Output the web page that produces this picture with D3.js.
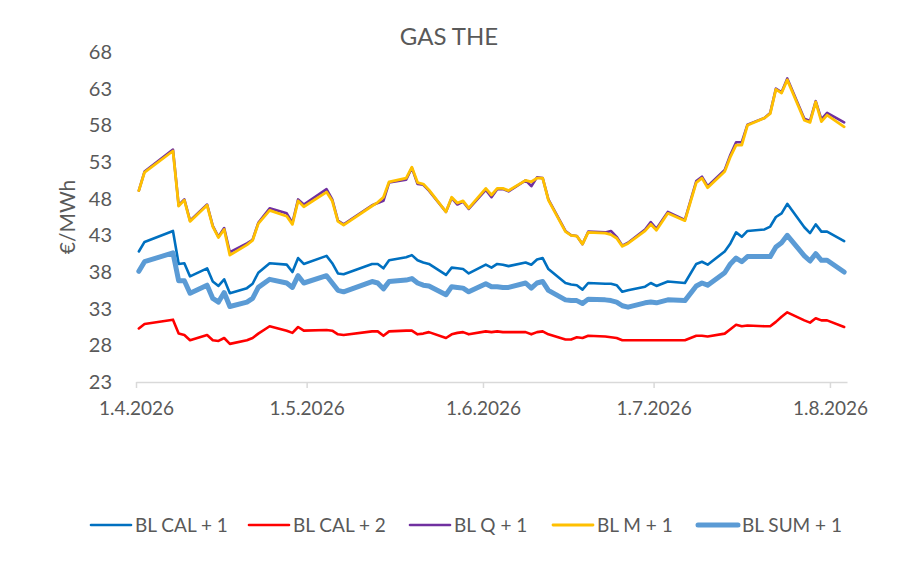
<!DOCTYPE html>
<html>
<head>
<meta charset="utf-8">
<script src="https://cdn.jsdelivr.net/npm/d3@7"></script>
<style>
  body { margin: 0; background: #fff; }
  text { font-family: Lato, "Open Sans", sans-serif; fill: #595959; }
</style>
</head>
<body>
<svg id="chart" width="900" height="573"></svg>
<script>
// trading days shown on the chart
const dates = [
  '2026-04-01','2026-04-02','2026-04-07','2026-04-08','2026-04-09','2026-04-10','2026-04-13','2026-04-14','2026-04-15','2026-04-16','2026-04-17','2026-04-20','2026-04-21','2026-04-22','2026-04-24','2026-04-27','2026-04-28','2026-04-29','2026-04-30',
  '2026-05-04','2026-05-05','2026-05-06','2026-05-07','2026-05-12','2026-05-13','2026-05-14','2026-05-15','2026-05-18','2026-05-19','2026-05-20','2026-05-21','2026-05-22','2026-05-25','2026-05-26','2026-05-27','2026-05-28','2026-05-29',
  '2026-06-01','2026-06-02','2026-06-03','2026-06-04','2026-06-05','2026-06-08','2026-06-09','2026-06-10','2026-06-11','2026-06-12','2026-06-15','2026-06-16','2026-06-17','2026-06-18','2026-06-19','2026-06-22','2026-06-23','2026-06-24','2026-06-25','2026-06-26','2026-06-29','2026-06-30',
  '2026-07-01','2026-07-03','2026-07-06','2026-07-08','2026-07-09','2026-07-10','2026-07-13','2026-07-14','2026-07-15','2026-07-16','2026-07-17','2026-07-20','2026-07-21','2026-07-22','2026-07-23','2026-07-24','2026-07-27','2026-07-28','2026-07-29','2026-07-30','2026-07-31',
  '2026-08-03'
];

const calPlus1 = [
  40.8, 42.1, 43.6, 39.1, 39.2, 37.4, 38.5, 36.7, 36.1, 37.0, 35.1, 35.8, 36.4, 37.9, 39.2, 39.0, 38.0, 39.9, 39.1,
  40.2, 39.2, 37.8, 37.7, 39.1, 39.1, 38.5, 39.6, 40.0, 40.3, 39.6, 39.3, 39.1, 37.6, 38.6, 38.5, 38.4, 37.8,
  39.0, 38.6, 39.1, 39.0, 38.8, 39.3, 39.0, 39.7, 39.9, 38.4, 36.5, 36.3, 36.2, 35.6, 36.5, 36.4, 36.4, 36.2, 35.3, 35.5, 36.0, 36.5,
  36.1, 36.7, 36.5, 39.1, 39.4, 39.0, 40.8, 41.9, 43.4, 42.8, 43.6, 43.8, 44.2, 45.5, 46.0, 47.3, 44.1, 43.3, 44.5, 43.5, 43.5,
  42.2
];
const calPlus2 = [
  30.3, 30.9, 31.5, 29.6, 29.4, 28.7, 29.4, 28.7, 28.6, 29.0, 28.2, 28.7, 29.0, 29.6, 30.6, 30.0, 29.7, 30.5, 30.0,
  30.1, 30.0, 29.5, 29.4, 29.9, 29.9, 29.3, 29.9, 30.0, 30.0, 29.5, 29.6, 29.8, 29.0, 29.5, 29.7, 29.8, 29.5,
  29.9, 29.8, 29.9, 29.8, 29.8, 29.8, 29.5, 29.8, 29.9, 29.5, 28.8, 28.8, 29.1, 29.0, 29.3, 29.2, 29.1, 29.0, 28.7, 28.7, 28.7, 28.7,
  28.7, 28.7, 28.7, 29.3, 29.3, 29.2, 29.6, 30.2, 30.8, 30.6, 30.7, 30.6, 30.6, 31.2, 31.9, 32.5, 31.4, 31.1, 31.7, 31.4, 31.4,
  30.5
];
const qPlus1 = [
  49.1, 51.7, 54.7, 47.1, 47.9, 45.0, 47.2, 44.3, 42.8, 44.0, 40.7, 41.9, 42.4, 44.7, 46.7, 46.0, 44.7, 47.9, 47.2,
  49.3, 47.9, 45.0, 44.5, 47.1, 47.4, 47.7, 50.2, 50.6, 52.2, 50.0, 49.9, 49.1, 46.2, 48.1, 47.2, 47.6, 46.6,
  49.2, 48.2, 49.3, 49.3, 49.0, 50.5, 49.7, 50.9, 50.8, 47.9, 43.6, 43.0, 42.9, 41.8, 43.5, 43.4, 43.6, 42.8, 41.6, 42.0, 43.8, 44.8,
  43.9, 46.2, 45.1, 50.4, 51.0, 49.7, 51.9, 54.0, 55.7, 55.7, 58.1, 59.0, 59.7, 63.0, 62.5, 64.4, 58.9, 58.6, 61.3, 58.8, 59.7,
  58.4
];
const mPlus1 = [
  49.1, 51.6, 54.5, 47.0, 47.8, 44.9, 47.1, 44.2, 42.7, 43.8, 40.3, 41.7, 42.3, 44.6, 46.4, 45.6, 44.5, 47.7, 46.9,
  48.9, 47.7, 44.9, 44.4, 47.0, 47.5, 48.2, 50.3, 50.8, 52.3, 50.2, 50.0, 49.2, 46.2, 48.2, 47.4, 47.7, 46.7,
  49.4, 48.5, 49.4, 49.4, 49.1, 50.5, 50.3, 50.8, 50.8, 47.8, 43.5, 43.0, 42.9, 41.8, 43.4, 43.3, 43.1, 42.6, 41.5, 41.9, 43.6, 44.5,
  43.7, 46.0, 45.0, 50.2, 50.8, 49.5, 51.7, 53.7, 55.3, 55.3, 58.0, 59.0, 59.6, 62.9, 62.4, 64.2, 58.7, 58.4, 61.2, 58.5, 59.4,
  57.8
];
const sumPlus1 = [
  38.1, 39.4, 40.6, 36.8, 36.8, 35.1, 36.2, 34.4, 33.9, 35.2, 33.3, 33.9, 34.4, 35.9, 37.0, 36.5, 35.9, 37.5, 36.5,
  37.5, 36.5, 35.5, 35.3, 36.7, 36.5, 35.7, 36.7, 36.9, 37.1, 36.5, 36.2, 36.1, 34.9, 36.0, 35.9, 35.8, 35.3,
  36.4, 36.0, 36.0, 35.9, 35.9, 36.5, 35.8, 36.5, 36.7, 35.5, 34.2, 34.1, 34.1, 33.7, 34.3, 34.2, 34.1, 33.9, 33.4, 33.2, 33.8, 33.9,
  33.8, 34.2, 34.1, 36.1, 36.5, 36.2, 37.9, 39.1, 39.9, 39.4, 40.1, 40.1, 40.1, 41.4, 42.0, 43.0, 40.2, 39.5, 40.5, 39.6, 39.6,
  38.0
];

const yTicks = [23, 28, 33, 38, 43, 48, 53, 58, 63, 68];
const xTicks = ['2026-04-01', '2026-05-01', '2026-06-01', '2026-07-01', '2026-08-01'];

const series = [
  { name: 'BL CAL + 1', values: calPlus1, color: '#0070C0', width: 2.6 },
  { name: 'BL CAL + 2', values: calPlus2, color: '#FF0000', width: 2.6 },
  { name: 'BL Q + 1', values: qPlus1, color: '#7030A0', width: 2.6 },
  { name: 'BL M + 1', values: mPlus1, color: '#FFC000', width: 2.8 },
  { name: 'BL SUM + 1', values: sumPlus1, color: '#5B9BD5', width: 5 },
];

const parseDate = d3.timeParse('%Y-%m-%d');
const days = dates.map(parseDate);

const svg = d3.select('#chart');
svg.append('rect').attr('width', 900).attr('height', 573).attr('fill', '#fff');

const x = d3.scaleTime()
  .domain([parseDate('2026-04-01'), parseDate('2026-08-04')])
  .range([136, 847]);
const y = d3.scaleLinear().domain([23, 68]).range([382, 52]);

// each point sits in the middle of its day
const xMid = d => x(d3.timeHour.offset(d, 12));

// title
svg.append('text')
  .attr('x', 449).attr('y', 45)
  .attr('text-anchor', 'middle')
  .style('font-size', '24px')
  .text('GAS THE');

// y axis labels only
const yAxis = svg.append('g')
  .attr('transform', 'translate(112,0)')
  .call(d3.axisLeft(y).tickValues(yTicks).tickSize(0).tickPadding(0));
yAxis.select('.domain').remove();
yAxis.selectAll('text')
  .style('font-size', '20px')
  .style('font-family', 'Lato, "Open Sans", sans-serif')
  .attr('fill', '#595959');

svg.append('text')
  .attr('transform', 'translate(75,217) rotate(-90)')
  .attr('text-anchor', 'middle')
  .style('font-size', '21px')
  .text('€/MWh');

// x axis
const xAxis = svg.append('g')
  .attr('transform', 'translate(0,382)')
  .call(d3.axisBottom(x)
    .tickValues(xTicks.map(parseDate))
    .tickFormat(d3.timeFormat('%-d.%-m.%Y'))
    .tickSizeInner(6)
    .tickSizeOuter(0)
    .tickPadding(14));
xAxis.select('.domain').attr('stroke', '#d9d9d9').attr('stroke-width', 1.5);
xAxis.selectAll('.tick line').attr('stroke', '#d9d9d9').attr('stroke-width', 1.5);
xAxis.selectAll('text')
  .style('font-size', '19px')
  .style('font-family', 'Lato, "Open Sans", sans-serif')
  .attr('fill', '#595959');

// lines
const line = d3.line()
  .x((d, i) => xMid(days[i]))
  .y(d => y(d));

svg.append('g')
  .selectAll('path')
  .data(series)
  .join('path')
  .attr('d', s => line(s.values))
  .attr('fill', 'none')
  .attr('stroke', s => s.color)
  .attr('stroke-width', s => s.width)
  .attr('stroke-linejoin', 'round')
  .attr('stroke-linecap', 'round');

// legend, spaced like the Excel one
const legendX = [91, 249, 410, 553, 698];
const legend = svg.append('g').attr('transform', 'translate(0,525)');
series.forEach((s, i) => {
  const item = legend.append('g').attr('transform', `translate(${legendX[i]},0)`);
  item.append('line')
    .attr('x1', 0).attr('x2', 40)
    .attr('stroke', s.color)
    .attr('stroke-width', s.width)
    .attr('stroke-linecap', 'round');
  item.append('text')
    .attr('x', 44).attr('dy', '0.35em')
    .style('font-size', '19px')
    .text(s.name);
});
</script>
</body>
</html>
